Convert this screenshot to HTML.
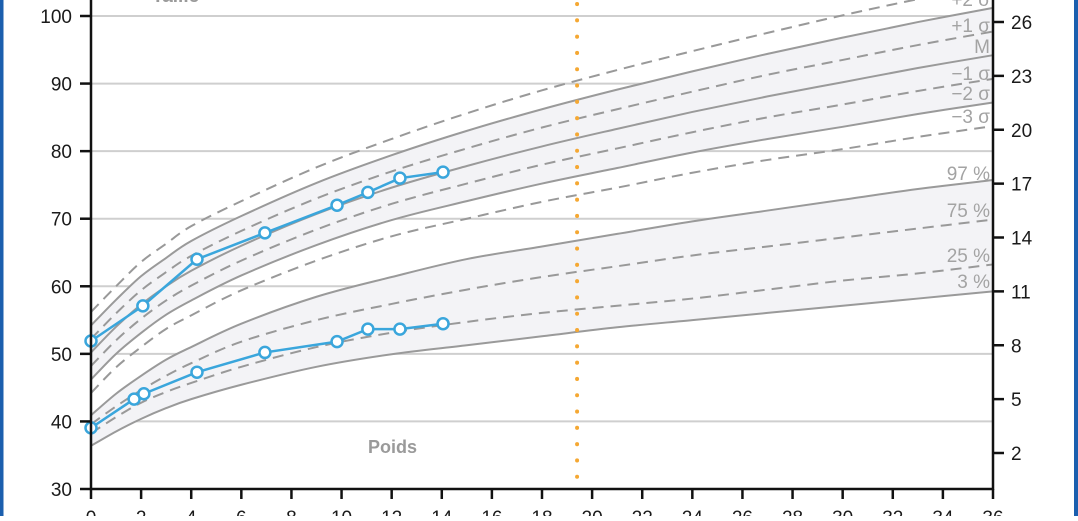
<!DOCTYPE html>
<html><head><meta charset="utf-8">
<style>
html,body{margin:0;padding:0;background:#fff;}
body{width:1078px;height:516px;overflow:hidden;position:relative;font-family:"Liberation Sans",sans-serif;}
</style></head>
<body>
<svg id="chart" width="1078" height="516" viewBox="0 0 1078 516" xmlns="http://www.w3.org/2000/svg">
<rect x="0" y="0" width="3.5" height="516" fill="#1b5fae"/>
<rect x="1074" y="0" width="4" height="516" fill="#1b5fae"/>
<g id="grid"></g>
<g id="bands"></g>
<g id="curves"></g>
<g id="marker"></g>
<g id="series"></g>
<g id="axes"></g>
<g id="labels"></g>
</svg>
<script>
// ---- data ----
const months = [0,1,2,3,4,6,9,12,15,18,21,24,27,30,33,36];
const hP3 = [56.2,60,63.6,66.3,68.9,72.6,77.6,81.8,85.6,89.0,92.0,94.8,97.5,100.1,102.5,104.7];
const hP2 = [54.2,58,61.5,64.2,66.7,70.4,75.3,79.4,83.0,86.2,89.1,91.8,94.4,96.8,99.1,101.2];
const hP1 = [52.2,56,59.4,62.1,64.5,68.2,73.0,77.0,80.4,83.5,86.2,88.8,91.3,93.5,95.7,97.7];
const hM  = [50.2,54,57.3,60,62.3,66,70.7,74.6,77.8,80.7,83.3,85.8,88.1,90.2,92.3,94.2];
const hM1 = [48.2,52,55.2,57.9,60.1,63.8,68.4,72.2,75.2,78.0,80.4,82.8,85.0,86.9,88.9,90.7];
const hM2 = [46.2,50,53.1,55.8,57.9,61.6,66.1,69.8,72.6,75.2,77.5,79.8,81.8,83.6,85.5,87.2];
const hM3 = [44.2,48,51.0,53.7,55.7,59.4,63.8,67.4,70.0,72.5,74.6,76.8,78.7,80.3,82.1,83.7];
const w97 = [4.1,5.3,6.3,7.2,7.9,9.2,10.7,11.8,12.8,13.5,14.2,14.9,15.5,16.1,16.7,17.2];
const w75 = [3.6,4.6,5.5,6.3,7.0,8.2,9.4,10.3,11.1,11.8,12.4,13.0,13.5,14.0,14.5,15.0];
const w25 = [3.1,4.0,4.8,5.4,5.9,6.8,7.9,8.7,9.3,9.8,10.2,10.6,11.1,11.6,12.0,12.5];
const w3  = [2.4,3.2,3.9,4.5,5.0,5.8,6.8,7.5,8.0,8.5,9.0,9.4,9.8,10.2,10.6,11.0];
const childHMonths = [0,2.07,4.23,6.94,9.82,11.05,12.33,14.05];
const childH = [51.9,57.1,64.0,67.9,72.0,73.9,76.0,76.9];
const childWMonths = [0,1.72,2.11,4.23,6.94,9.82,11.05,12.33,14.05];
const childW = [3.4,5.0,5.3,6.5,7.6,8.2,8.9,8.9,9.2];
const leftTicks = [30,40,50,60,70,80,90,100];
const rightTicks = [2,5,8,11,14,17,20,23,26];
const xTicks = [0,2,4,6,8,10,12,14,16,18,20,22,24,26,28,30,32,34,36];
const markerMonth = 19.4;

// ---- scales ----
const X0=91, X1=993;
const xs = m => X0 + (m/36)*(X1-X0);
const yL = v => 489 - (v-30)*(489-16)/70;
const yR = v => 22 + (26-v)*(453-22)/24;
const NS="http://www.w3.org/2000/svg";
function mk(tag, parent, attrs){const e=document.createElementNS(NS,tag);for(const k in attrs)e.setAttribute(k,attrs[k]);parent.appendChild(e);return e;}
function pts(ms, vs, ys){return ms.map((m,i)=>[xs(m),ys(vs[i])]);}
function smooth(p){
  let d=`M${p[0][0]},${p[0][1]}`;
  for(let i=0;i<p.length-1;i++){const p0=p[i-1]||p[i],p1=p[i],p2=p[i+1],p3=p[i+2]||p2;
    d+=` C${p1[0]+(p2[0]-p0[0])/6},${p1[1]+(p2[1]-p0[1])/6} ${p2[0]-(p3[0]-p1[0])/6},${p2[1]-(p3[1]-p1[1])/6} ${p2[0]},${p2[1]}`;}
  return d;}
function revSmooth(p){const r=p.slice().reverse();return smooth(r).replace(/^M/,'L');}

const grid=document.getElementById('grid');
leftTicks.forEach(v=>{ if(v===30) return;
  const l=mk('line',grid,{x1:X0,x2:X1,y1:yL(v),y2:yL(v),stroke:'#cfcfcf','stroke-width':2});
  
  
});

const bands=document.getElementById('bands');
function band(top,bot,ys,name){
  const a=pts(months,top,ys), b=pts(months,bot,ys);
  const p=mk('path',bands,{d:smooth(a)+' '+revSmooth(b)+' Z',fill:'#f3f3f6'});
  
  
}
band(hP2,hM2,yL,'height-band');
band(w97,w3,yR,'weight-band');

const curves=document.getElementById('curves');
function curve(vals,ys,dashed,name){
  const p=mk('path',curves,{d:smooth(pts(months,vals,ys)),fill:'none',stroke:dashed?'#999':'#9a9a9a','stroke-width':2});
  if(dashed)p.setAttribute('stroke-dasharray','11,7');
  
  
}
curve(hP3,yL,true,'height-plus3-sd');
curve(hP2,yL,false,'height-plus2-sd');
curve(hP1,yL,true,'height-plus1-sd');
curve(hM,yL,false,'height-median');
curve(hM1,yL,true,'height-minus1-sd');
curve(hM2,yL,false,'height-minus2-sd');
curve(hM3,yL,true,'height-minus3-sd');
curve(w97,yR,false,'weight-p97');
curve(w75,yR,true,'weight-p75');
curve(w25,yR,true,'weight-p25');
curve(w3,yR,false,'weight-p3');

const marker=document.getElementById('marker');
const ml=mk('line',marker,{x1:xs(markerMonth),x2:xs(markerMonth),y1:4,y2:487,stroke:'#f5a833','stroke-width':4,'stroke-dasharray':'0.1,16.2','stroke-linecap':'round'});



const series=document.getElementById('series');
function childSeries(ms,vs,ys,name){
  const p=pts(ms,vs,ys);
  const pl=mk('polyline',series,{points:p.map(q=>q.join(',')).join(' '),fill:'none',stroke:'#3aa6dc','stroke-width':2.5});
  
  
  p.forEach((q,i)=>{
    const c=mk('circle',series,{cx:q[0],cy:q[1],r:5.5,fill:'#fff',stroke:'#3aa6dc','stroke-width':2.5});
    
    
  });
}
childSeries(childHMonths,childH,yL,'child-height');
childSeries(childWMonths,childW,yR,'child-weight');

const axes=document.getElementById('axes');
const la=mk('line',axes,{x1:X0,x2:X0,y1:0,y2:490,stroke:'#111','stroke-width':2.5});


const ra=mk('line',axes,{x1:X1,x2:X1,y1:0,y2:490,stroke:'#111','stroke-width':2.5});


const ba=mk('line',axes,{x1:X0,x2:X1+1,y1:489,y2:489,stroke:'#111','stroke-width':2.5});


leftTicks.forEach(v=>{
  mk('line',axes,{x1:80,x2:X0,y1:yL(v),y2:yL(v),stroke:'#111','stroke-width':2.5});
  const t=mk('text',axes,{x:72,y:yL(v)+7,'text-anchor':'end','font-size':19,fill:'#1a1a1a'});
  t.textContent=v;
  
  
});
rightTicks.forEach(v=>{
  mk('line',axes,{x1:X1,x2:1004,y1:yR(v),y2:yR(v),stroke:'#111','stroke-width':2.5});
  const t=mk('text',axes,{x:1011,y:yR(v)+7,'font-size':19,fill:'#1a1a1a'});
  t.textContent=v;
  
  
});
xTicks.forEach(v=>{
  mk('line',axes,{x1:xs(v),x2:xs(v),y1:489,y2:499,stroke:'#111','stroke-width':2.5});
  const t=mk('text',axes,{x:xs(v),y:524,'text-anchor':'middle','font-size':19,fill:'#1a1a1a'});
  t.textContent=v;
  
  
});

const labels=document.getElementById('labels');
const curveLabels=[['+2 σ',6],['+1 σ',32],['M',53],['−1 σ',80],['−2 σ',100],['−3 σ',123],['97 %',180],['75 %',217],['25 %',262],['3 %',288]];
curveLabels.forEach(l=>{
  const t=mk('text',labels,{x:990,y:l[1],'text-anchor':'end','font-size':19,fill:'#a3a3a3'});
  t.textContent=l[0];
  
  
});
const tt=mk('text',labels,{x:152,y:2,'font-size':19,'font-weight':'bold',fill:'#9a9a9a'});
tt.textContent='Taille';


const pt=mk('text',labels,{x:368,y:453,'font-size':18,'font-weight':'bold',fill:'#9a9a9a'});
pt.textContent='Poids';


</script>
</body></html>
